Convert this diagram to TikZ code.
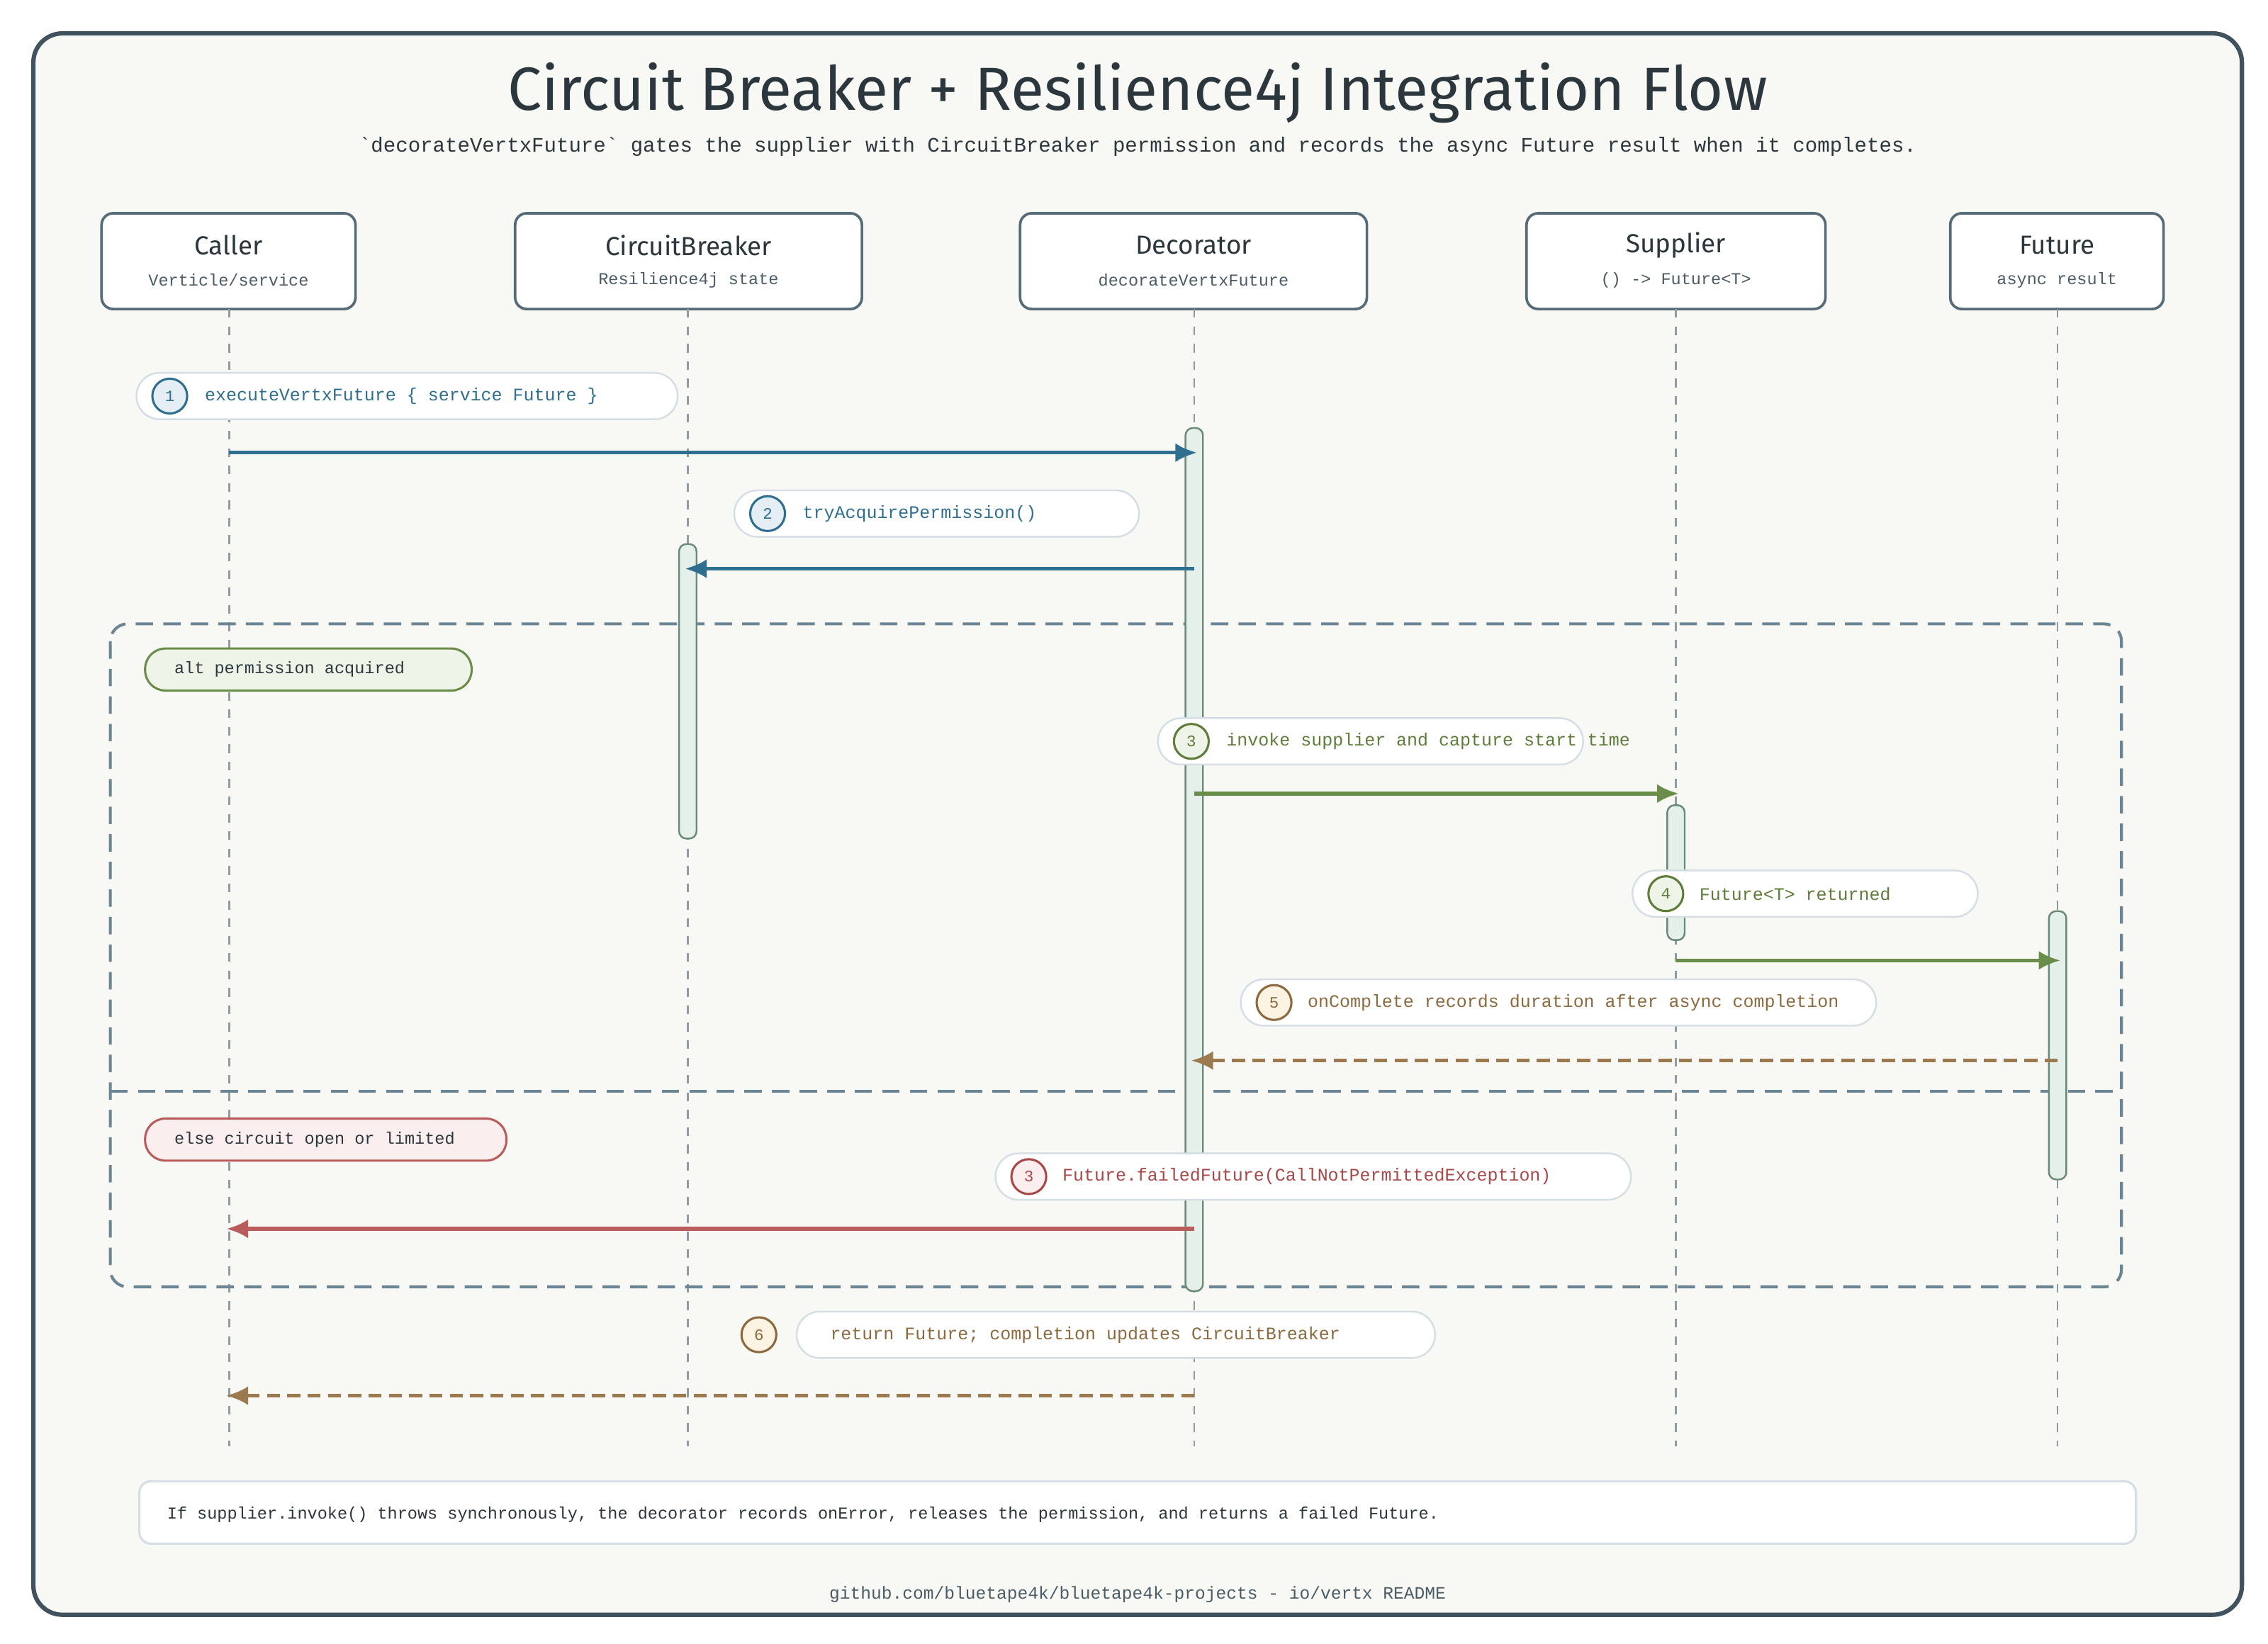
\documentclass[tikz,border=0pt]{standalone}
\usepackage{fontspec}
\setmainfont{Fira Sans}
\newfontfamily\mono{Liberation Mono}
\newfontfamily\hand{Fira Sans}
\usetikzlibrary{arrows.meta}
\definecolor{bg}{HTML}{F8F9F5}
\definecolor{frame}{HTML}{3F525E}
\definecolor{pbord}{HTML}{566B78}
\definecolor{life}{HTML}{8E9BA3}
\definecolor{actf}{HTML}{E6F0EA}
\definecolor{actd}{HTML}{6A8A78}
\definecolor{cblue}{HTML}{2E6E8E}
\definecolor{cblueL}{HTML}{E4EEF4}
\definecolor{cgreen}{HTML}{5E7D3A}
\definecolor{cgreenA}{HTML}{6A8D4A}
\definecolor{cgreenL}{HTML}{EEF4E8}
\definecolor{cbrown}{HTML}{8C6A3E}
\definecolor{cbrownA}{HTML}{9A7A4E}
\definecolor{cbrownL}{HTML}{FDF3E3}
\definecolor{cred}{HTML}{A84848}
\definecolor{credA}{HTML}{B85C5C}
\definecolor{credL}{HTML}{FBEEEE}
\definecolor{pillb}{HTML}{D5DEE4}
\definecolor{altc}{HTML}{6C8594}
\definecolor{txt}{HTML}{2B363D}
\definecolor{sub}{HTML}{4A5C66}
\begin{document}
\begin{tikzpicture}[x=1pt,y=-1pt,
  part/.style={draw=pbord,line width=1.8pt,fill=white,rounded corners=8pt},
  pname/.style={font=\hand\fontsize{18}{20}\selectfont,text=txt},
  psub/.style={font=\mono\fontsize{11.5}{14}\selectfont,text=sub},
  lifeline/.style={draw=life,line width=1.2pt,dash pattern=on 6pt off 6pt},
  act/.style={draw=actd,line width=1.2pt,fill=actf,rounded corners=5pt},
  pill/.style={draw=pillb,line width=1.2pt,fill=white,rounded corners=16pt},
  num/.style={circle,draw=#1,line width=1.5pt,minimum size=24pt,inner sep=0pt,font=\mono\fontsize{11}{12}\selectfont,text=#1},
  lbl/.style={anchor=west,font=\mono\fontsize{12.2}{14}\selectfont,text=#1,inner sep=0pt},
  msg/.style={draw=#1,line width=2.6pt,-{Latex[length=15pt,width=13pt]}},
  rmsg/.style={draw=#1,line width=2.4pt,dash pattern=on 9pt off 5pt,-{Latex[length=15pt,width=13pt]}},
  tag/.style={line width=1.5pt,rounded corners=14pt},
]
\path[use as bounding box] (0,0) rectangle (1563,1133);
\fill[white] (0,0) rectangle (1563,1133);
\draw[frame,line width=3pt,fill=bg,rounded corners=20pt] (23,23) rectangle (1545,1113);
\node[font=\hand\fontsize{42}{46}\selectfont,text=txt] (title) at (784,64) {Circuit Breaker + Resilience4j Integration Flow};
\node[font=\mono\fontsize{14.2}{17}\selectfont,text=txt] (subt) at (784,101) {`decorateVertxFuture` gates the supplier with CircuitBreaker permission and records the async Future result when it completes.};

% participants
\foreach \n/\a/\b/\t/\s in {caller/70/245/Caller/Verticle\slash service,cb/355/594/CircuitBreaker/Resilience4j state,dec/703/942/Decorator/decorateVertxFuture,sup/1052/1258/Supplier/{() -> Future<T>},fut/1344/1491/Future/async result}{
  \draw[part] (\a,147) rectangle (\b,213);
  \node[pname] (\n) at ({(\a+\b)/2},169) {\t};
  \node[psub] (\n s) at ({(\a+\b)/2},193) {\s};
}
% lifelines
\foreach \n/\x in {caller/158,cb/474,dec/823,sup/1155,fut/1418}{
  \coordinate (\n T) at (\x,213); \coordinate (\n B) at (\x,997);
  \draw[lifeline] (\n T) -- (\n B);
}
% alt frame
\draw[altc,line width=2pt,dash pattern=on 12pt off 7pt,rounded corners=12pt] (76,430) rectangle (1462,887);
\draw[altc,line width=2pt,dash pattern=on 12pt off 7pt] (76,752) -- (1462,752);
\node[tag,draw=cgreenA,fill=cgreenL,minimum width=225pt,minimum height=29pt] (alt) at (212.5,461.5) {};
\node[lbl=txt,font=\mono\fontsize{11.5}{14}\selectfont] at (120,461.5) {alt permission acquired};
\node[tag,draw=credA,fill=credL,minimum width=249pt,minimum height=29pt] (else) at (224.5,785.5) {};
\node[lbl=txt,font=\mono\fontsize{11.5}{14}\selectfont] at (120,785.5) {else circuit open or limited};

% activations
\draw[act] (817,295) rectangle (829,890);
\draw[act] (468,375) rectangle (480,578);
\draw[act] (1149,555) rectangle (1161,648);
\draw[act] (1412,628) rectangle (1424,813);

% labels
\draw[pill] (94,257) rectangle (467,289);
\node[num=cblue,fill=cblueL] (n1) at (117,273) {1};
\node[lbl=cblue] at (141,273) {executeVertxFuture \{ service Future \}};
\draw[pill] (506,338) rectangle (785,370);
\node[num=cblue,fill=cblueL] (n2) at (529,354) {2};
\node[lbl=cblue] at (553,354) {tryAcquirePermission()};
\draw[pill] (798,495) rectangle (1091,527);
\node[num=cgreen,fill=cgreenL] (n3) at (821,511) {3};
\node[lbl=cgreen] at (845,511) {invoke supplier and capture start time};
\draw[pill] (1125,600) rectangle (1363,632);
\node[num=cgreen,fill=cgreenL] (n4) at (1148,616) {4};
\node[lbl=cgreen] at (1171,616) {Future<T> returned};
\draw[pill] (855,675) rectangle (1293,707);
\node[num=cbrown,fill=cbrownL] (n5) at (878,691) {5};
\node[lbl=cbrown] at (901,691) {onComplete records duration after async completion};
\draw[pill] (686,795) rectangle (1124,827);
\node[num=cred,fill=credL] (n3b) at (709,811) {3};
\node[lbl=cred] at (732,811) {Future.failedFuture(CallNotPermittedException)};
\draw[pill] (549,904) rectangle (989,936);
\node[num=cbrown,fill=cbrownL] (n6) at (523,920) {6};
\node[lbl=cbrown] at (572,920) {return Future; completion updates CircuitBreaker};

% messages
\coordinate (m1a) at (158,312); \coordinate (m1b) at (825,312);
\draw[msg=cblue] (m1a) -- (m1b);
\coordinate (m2a) at (823,392); \coordinate (m2b) at (472,392);
\draw[msg=cblue] (m2a) -- (m2b);
\coordinate (m3a) at (823,547); \coordinate (m3b) at (1157,547);
\draw[msg=cgreenA] (m3a) -- (m3b);
\coordinate (m4a) at (1155,662); \coordinate (m4b) at (1420,662);
\draw[msg=cgreenA] (m4a) -- (m4b);
\coordinate (m5a) at (1418,731); \coordinate (m5b) at (821,731);
\draw[rmsg=cbrownA] (m5a) -- (m5b);
\coordinate (m6a) at (823,847); \coordinate (m6b) at (156,847);
\draw[msg=credA] (m6a) -- (m6b);
\coordinate (m7a) at (823,962); \coordinate (m7b) at (156,962);
\draw[rmsg=cbrownA] (m7a) -- (m7b);

% note
\draw[draw=pillb,line width=1.5pt,fill=white,rounded corners=8pt] (96,1021) rectangle (1472,1064);
\node[lbl=txt,font=\mono\fontsize{11.5}{14}\selectfont] (note) at (115,1044) {If supplier.invoke() throws synchronously, the decorator records onError, releases the permission, and returns a failed Future.};
\node[font=\mono\fontsize{12}{14}\selectfont,text=sub] (foot) at (784,1099) {github.com/bluetape4k/bluetape4k-projects - io/vertx README};
\end{tikzpicture}
\end{document}
